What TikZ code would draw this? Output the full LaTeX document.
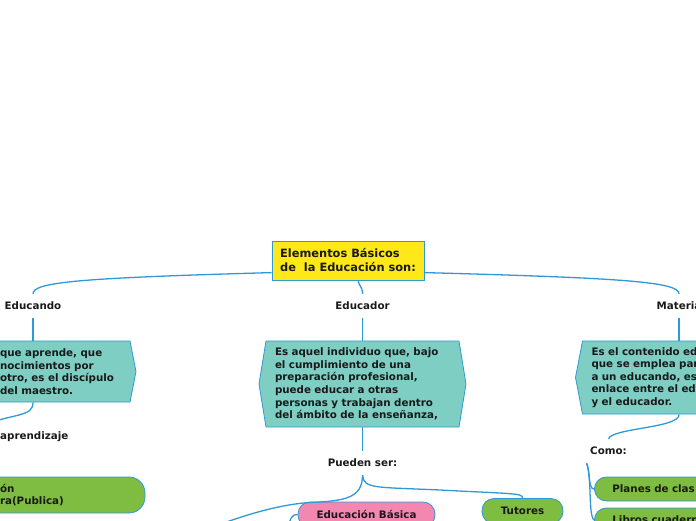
\documentclass[tikz,border=0pt]{standalone}
\usepackage{fontspec}
\setmainfont{DejaVu Sans}
\usetikzlibrary{shapes.symbols}

\definecolor{linkblue}{RGB}{46,153,216}
\definecolor{rootyellow}{RGB}{255,232,26}
\definecolor{defteal}{RGB}{126,206,195}
\definecolor{itemgreen}{RGB}{126,188,66}
\definecolor{itempink}{RGB}{243,135,176}

\begin{document}
\begin{tikzpicture}[x=1pt, y=-1pt,
  every node/.style={font=\bfseries\fontsize{10.3}{12.6}\selectfont, text=black!90},
  rootbox/.style={draw=linkblue, fill=rootyellow, line width=0.8pt, minimum width=152pt, minimum height=39pt, align=left, font=\bfseries\fontsize{11.4}{14}\selectfont},
  defbox/.style={shape=signal, draw=linkblue, fill=defteal, line width=0.8pt, text width=175pt, align=left, inner xsep=9pt},
  tag/.style={minimum height=24pt, inner xsep=3.5pt},
  pill/.style={draw=linkblue, line width=0.8pt, rounded corners=12pt, minimum height=25pt, align=center},
  link/.style={draw=linkblue, line width=1.3pt}]
\useasboundingbox (0,0) rectangle (696,520);
\clip (0,0) rectangle (696,520);
\node[rootbox] (root) at (348,260.5) {Elementos Básicos\\de\ \ la Educación son:};
\node[tag] (educando) at (33,306) {Educando};
\node[tag] (educador) at (362.5,306) {Educador};
\node[tag] (materia) at (679,306) {Materia};
\node[defbox, signal to=east, signal pointer angle=157.7, text width=120pt, inner xsep=10pt, minimum height=61pt] (educandodef) at (60,371.5) {que aprende, que\\nocimientos por\\otro, es el discípulo\\del maestro.};
\node[defbox, signal to=east and west, signal pointer angle=161.5, minimum height=86pt] (educadordef) at (362.5,384) {Es aquel individuo que, bajo\\el cumplimiento de una\\preparación profesional,\\puede educar a otras\\personas y trabajan dentro\\del ámbito de la enseñanza,};
\node[defbox, signal to=west, signal pointer angle=158.3, minimum height=73pt] (materiadef) at (679,377.5) {Es el contenido ed\\que se emplea par\\a un educando, es\\enlace entre el ed\\y el educador.};
\node[tag, anchor=west, inner xsep=0pt] (aprendizaje) at (0,437) {aprendizaje};
\node[tag] (pueden) at (362.5,463) {Pueden ser:};
\node[tag] (como) at (608.5,451) {Como:};
\node[pill, fill=itemgreen, text width=130pt, align=left, inner xsep=15pt, minimum height=36pt, rounded corners=16pt] (primaria) at (65,495) {ón\\ra(Publica)};
\node[pill, fill=itempink, minimum width=137pt] (basica) at (366.5,514.5) {Educación Básica};
\node[pill, fill=itemgreen, minimum width=81pt] (tutores) at (522.5,511) {Tutores};
\node[pill, fill=itemgreen, anchor=west, minimum height=24pt, text width=150pt, align=left, inner xsep=18pt] (planes) at (594,489) {Planes de clas};
\node[pill, fill=itemgreen, anchor=west, minimum height=24pt, text width=150pt, align=left, inner xsep=18pt] (libros) at (594,520) {Libros cuadern};
\coordinate (aprendizaje-top) at (-20,426);
\coordinate (pueden-left) at (200,532);
\coordinate (basica-child) at (287,532);
\draw[link] (root.189) .. controls (80,278) and (33,282) .. (educando.north);
\draw[link] (root.-9) .. controls (625,278) and (679,282) .. (materia.north);
\draw[link] (root.-63) .. controls (359,287) and (362.5,286) .. (educador.north);
\draw[link] (educando.south) -- (educando.south |- educandodef.north);
\draw[link] (educador.south) -- (educadordef.north);
\draw[link] (materia.south) -- (materiadef.north);
\draw[link] (educando.south |- educandodef.south) .. controls (33,417) and (15,413) .. (aprendizaje-top);
\draw[link] (educadordef.south) -- (pueden.north);
\draw[link] (pueden.south) .. controls (362.5,498) and (345,501) .. (310,502.5) .. controls (285,504) and (250,512) .. (pueden-left);
\draw[link] (pueden.south) .. controls (364,489) and (375,487) .. (440,490) .. controls (515,494) and (522.5,493) .. (tutores.north);
\draw[link] (basica.west) .. controls (292,514) and (290,518) .. (basica-child);
\draw[link] (materiadef.south) .. controls (680,428) and (612,428) .. (como.north);
\draw[link] (como.south west) .. controls (590,470) and (588,489) .. (planes.west);
\draw[link] (como.south west) .. controls (592,475) and (588,515) .. (libros.west);
\end{tikzpicture}
\end{document}
